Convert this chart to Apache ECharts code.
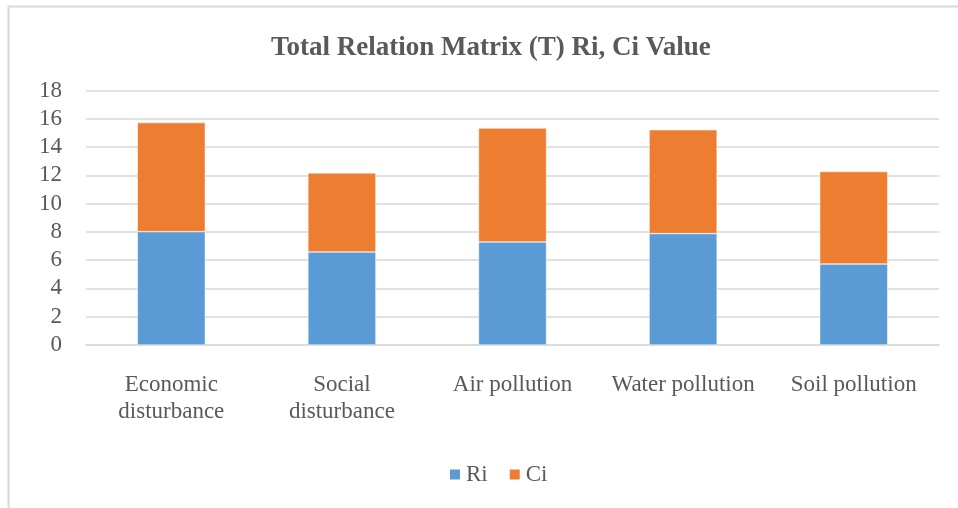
<!DOCTYPE html>
<html>
<head>
<meta charset="utf-8">
<script src="https://cdn.jsdelivr.net/npm/echarts@6/dist/echarts.min.js"></script>
<style>html,body{margin:0;padding:0;background:#fff;}#c{width:958px;height:508px;}</style>
</head>
<body>
<div id="c"></div>
<script>
const categories = ['Economic\ndisturbance', 'Social\ndisturbance', 'Air pollution', 'Water pollution', 'Soil pollution'];
const riValues = [8.02, 6.58, 7.29, 7.88, 5.73];
const ciValues = [7.71, 5.59, 8.05, 7.34, 6.54];
const yTicks = [0, 2, 4, 6, 8, 10, 12, 14, 16, 18];

const font = '"Liberation Serif", "Times New Roman", serif';
const chart = echarts.init(document.getElementById('c'));
chart.setOption({
  animation: false,
  backgroundColor: '#fff',
  graphic: [{
    type: 'rect', shape: {x: 8.5, y: 6.5, width: 1000, height: 600},
    style: {fill: 'none', stroke: '#d9d9d9', lineWidth: 2}, silent: true, z: -1
  }],
  title: {
    text: 'Total Relation Matrix (T) Ri, Ci Value', left: 266, top: 30,
    textStyle: {fontFamily: font, fontSize: 27, fontWeight: 'bold', color: '#595959'}
  },
  legend: {
    bottom: 17, left: 443, itemWidth: 12, itemHeight: 12, itemGap: 20,
    icon: 'rect',
    textStyle: {fontFamily: font, fontSize: 23, color: '#595959'},
    data: ['Ri', 'Ci']
  },
  grid: {left: 86, right: 19, top: 90.5, bottom: 163, containLabel: false},
  xAxis: {
    type: 'category', data: categories,
    axisLine: {show: true, lineStyle: {color: '#d9d9d9', width: 1.5}},
    axisTick: {show: false},
    axisLabel: {fontFamily: font, fontSize: 23, color: '#595959', margin: 26, lineHeight: 27, interval: 0}
  },
  yAxis: {
    type: 'value', min: yTicks[0], max: yTicks[yTicks.length - 1], interval: 2,
    axisLine: {show: false}, axisTick: {show: false},
    axisLabel: {fontFamily: font, fontSize: 23, color: '#595959', margin: 24},
    splitLine: {lineStyle: {color: '#d9d9d9', width: 1.5}}
  },
  series: [
    {name: 'Ri', type: 'bar', stack: 't', data: riValues, barWidth: 68,
     itemStyle: {color: '#5b9bd5', borderColor: '#ffffff', borderWidth: 0.5}},
    {name: 'Ci', type: 'bar', stack: 't', data: ciValues, barWidth: 68,
     itemStyle: {color: '#ed7d31', borderColor: '#ffffff', borderWidth: 0.5}}
  ]
});
</script>
</body>
</html>
